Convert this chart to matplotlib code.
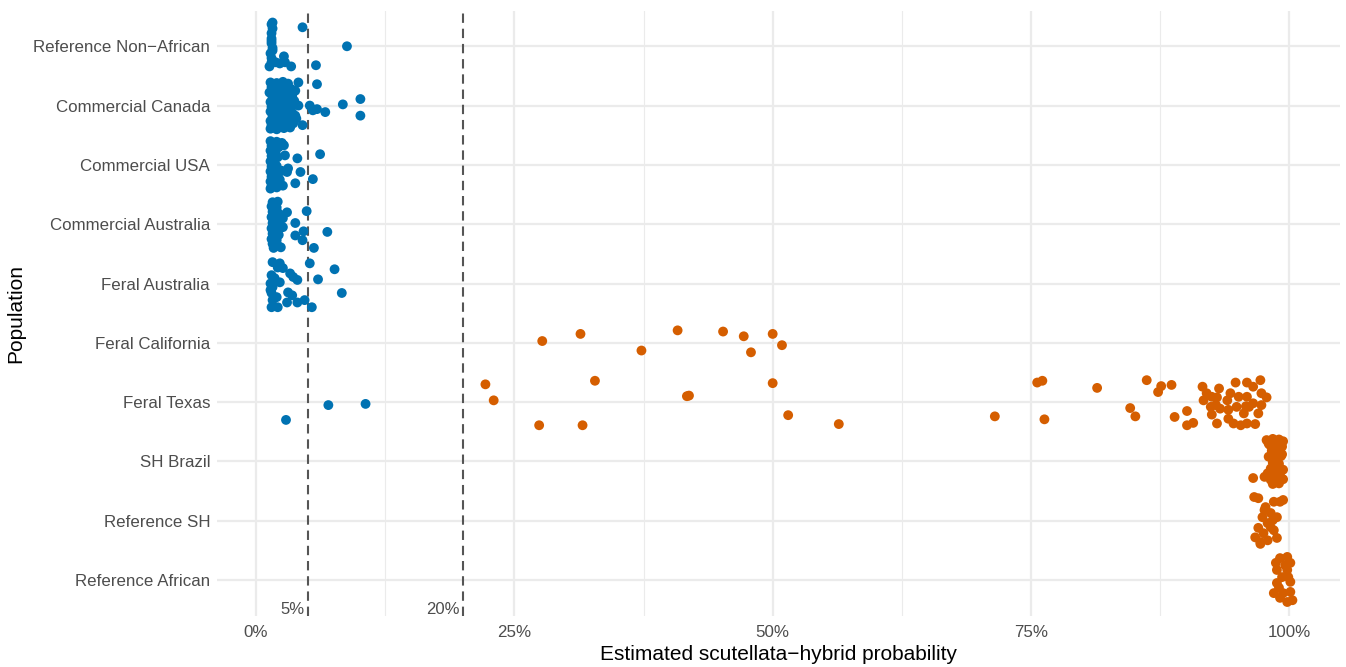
import numpy as np
import matplotlib
matplotlib.use("Agg")
import matplotlib.pyplot as plt
from matplotlib.ticker import FuncFormatter, MultipleLocator

plt.rcParams['font.family'] = ['Liberation Sans', 'DejaVu Sans']

# populations, top to bottom
populations = ['Reference Non\u2212African', 'Commercial Canada', 'Commercial USA',
               'Commercial Australia', 'Feral Australia', 'Feral California',
               'Feral Texas', 'SH Brazil', 'Reference SH', 'Reference African']

# probability (%) and vertical jitter (in category units)
ref_nonafr_x = [1.5, 1.6, 1.5, 1.5, 1.5, 1.6, 1.4, 1.5, 1.5, 2.7, 2.8, 3.4, 4.5, 8.8, 5.8, 1.9, 2.3, 1.6, 1.3,
                1.5, 1.6]
ref_nonafr_dy = [0.37, 0.30, 0.22, 0.13, 0.05, -0.03, -0.12, -0.20, -0.27, -0.17, -0.27, -0.34, 0.32, 0.0, -0.32, -0.27, -0.29, 0.40, -0.34,
                 0.09, -0.07]

canada_x = [1.4, 2.0, 2.6, 3.1, 1.5, 2.2, 2.8, 3.4, 1.3, 1.9, 2.5, 3.0, 1.6, 2.3, 2.9, 3.5,
            1.4, 2.0, 2.6, 3.2, 1.5, 2.2, 2.8, 3.3, 1.4, 2.0, 2.7, 3.5, 1.6, 2.3, 2.9, 1.4,
            2.1, 2.6, 3.2, 1.5, 2.2, 2.9, 3.6, 1.4, 2.0, 2.7, 3.3, 3.8, 3.7, 3.9,
            1.7, 2.4, 3.0, 1.8, 2.5, 3.1, 1.7, 2.4, 3.0, 1.8, 2.5, 3.4, 1.7, 2.4,
            4.1, 5.9, 8.4, 10.1, 10.1, 5.9, 6.7, 5.5, 4.1, 4.5, 3.8, 5.2]
canada_dy = [0.39, 0.38, 0.40, 0.37, 0.31, 0.30, 0.32, 0.28, 0.22, 0.24, 0.20, 0.21, 0.14, 0.12, 0.15, 0.16,
             0.06, 0.05, 0.08, 0.04, -0.02, -0.03, -0.01, -0.04, -0.10, -0.11, -0.09, -0.12, -0.18, -0.19, -0.16, -0.26,
             -0.25, -0.28, -0.24, -0.33, -0.34, -0.31, -0.30, -0.39, -0.40, -0.38, -0.37, 0.25, 0.08, -0.22,
             0.35, 0.34, 0.26, 0.18, 0.17, 0.10, 0.01, 0.00, -0.06, -0.14, -0.14, -0.20, -0.30, -0.36,
             0.39, 0.36, 0.02, 0.11, -0.17, -0.06, -0.11, -0.08, 0.0, -0.33, -0.17, 0.0]

usa_x = [1.4, 2.0, 2.5, 1.5, 2.2, 2.7, 1.4, 1.9, 1.5, 2.1, 1.4, 1.8, 1.5, 2.0, 1.4, 1.9,
         1.5, 2.1, 1.4, 1.8, 2.3, 1.5, 2.0, 2.6, 1.4, 2.5, 1.7, 1.7, 1.7,
         2.8, 4.0, 6.2, 3.1, 4.3, 3.0, 3.8, 5.5]
usa_dy = [0.40, 0.39, 0.37, 0.32, 0.30, 0.33, 0.24, 0.22, 0.15, 0.13, 0.06, 0.04, -0.03, -0.02, -0.11, -0.13,
          -0.20, -0.19, -0.28, -0.27, -0.25, -0.36, -0.38, -0.35, -0.40, -0.10, 0.18, -0.07, -0.32,
          0.16, 0.11, 0.18, -0.06, -0.12, -0.12, -0.31, -0.24]

com_aus_x = [1.6, 2.1, 1.5, 2.0, 1.6, 2.2, 1.5, 2.0, 1.6, 2.3, 1.5, 2.0, 1.6, 2.2, 1.5, 2.0,
             1.6, 2.1, 1.7, 2.4,
             3.0, 4.9, 3.8, 4.6, 6.9, 3.8, 4.5, 5.6, 2.6, 2.6]
com_aus_dy = [0.37, 0.38, 0.30, 0.28, 0.21, 0.18, 0.12, 0.09, 0.02, 0.0, -0.07, -0.09, -0.16, -0.18, -0.25, -0.27,
              -0.33, -0.36, -0.40, -0.39,
              0.20, 0.22, 0.02, -0.12, -0.13, -0.19, -0.27, -0.40, -0.05, 0.10]

feral_aus_x = [1.6, 2.3, 2.1, 5.2, 7.6, 3.3, 3.6, 6.0, 4.0, 1.5, 1.8, 1.4, 1.6, 2.3, 8.3, 3.1,
               3.5, 3.0, 4.0, 4.7, 5.4, 1.5, 1.6, 1.5, 2.1, 2.0, 2.6, 1.4]
feral_aus_dy = [0.36, 0.34, 0.27, 0.34, 0.24, 0.17, 0.11, 0.07, 0.06, 0.14, 0.09, 0.0, -0.06, 0.02, -0.16, -0.15,
                -0.20, -0.32, -0.32, -0.28, -0.40, -0.16, -0.28, -0.40, -0.40, -0.23, 0.26, -0.11]

california_x = [27.7, 31.4, 37.3, 40.8, 45.2, 47.2, 47.9, 50.0, 50.9]
california_dy = [0.03, 0.15, -0.13, 0.21, 0.19, 0.11, -0.16, 0.15, -0.04]

texas_x = [2.9, 7.0, 10.6,
           22.2, 23.0, 27.4, 31.6, 32.8, 41.7, 41.9, 50.0, 51.5, 56.4, 71.5, 75.6, 76.1, 76.3,
           81.4, 86.2, 87.3, 87.6, 88.6, 84.6, 85.1, 88.9, 90.1, 90.1, 90.7,
           91.6, 92.0, 91.7, 92.5, 93.0, 93.2, 92.4, 92.5, 93.0, 93.3, 94.1, 94.3, 94.8, 95.1,
           95.9, 96.5, 97.2, 97.3, 97.8, 97.3, 97.0, 96.7, 95.9, 95.3, 94.6, 94.1, 95.6, 96.1,
           96.5, 94.9, 94.0, 95.9, 92.9, 95.8]
texas_dy = [-0.30, -0.05, -0.03,
            0.30, 0.03, -0.39, -0.39, 0.36, 0.10, 0.11, 0.32, -0.22, -0.37, -0.24, 0.33, 0.36, -0.29,
            0.24, 0.37, 0.17, 0.27, 0.29, -0.10, -0.24, -0.25, -0.15, -0.39, -0.35,
            0.26, 0.15, 0.03, 0.09, 0.08, 0.23, -0.08, -0.21, -0.36, -0.11, -0.13, 0.15, 0.33, 0.09,
            0.33, 0.26, 0.37, 0.15, 0.08, -0.05, -0.19, -0.37, -0.36, -0.39, -0.36, -0.28, -0.19, -0.08,
            -0.02, -0.08, 0.03, 0.09, -0.05, -0.07]

brazil_x = [97.8, 98.4, 99.0, 99.4, 98.1, 98.8, 99.3, 98.3, 98.9, 98.0, 98.6, 99.2, 98.4, 99.0,
            98.2, 98.8, 99.4, 97.9, 98.5, 99.1, 98.2, 98.8, 99.4, 98.4, 99.0, 97.6, 96.5,
            98.0, 98.7, 99.3, 98.5]
brazil_dy = [0.36, 0.38, 0.37, 0.34, 0.28, 0.27, 0.25, 0.18, 0.16, 0.08, 0.06, 0.09, -0.02, -0.04,
             -0.12, -0.10, -0.14, -0.20, -0.22, -0.24, -0.31, -0.33, -0.30, -0.38, -0.37, -0.26, -0.28,
             0.30, 0.21, 0.12, 0.02]

ref_sh_x = [97.0, 97.7, 98.5, 99.1, 98.2, 97.4, 98.8, 97.9, 97.0, 98.5, 96.7, 97.2, 97.9, 98.8,
            97.5, 98.4, 97.2, 99.4, 98.2, 97.6, 96.6]
ref_sh_dy = [0.38, 0.23, 0.32, 0.32, 0.13, 0.06, 0.06, -0.04, -0.12, -0.16, -0.28, -0.36, -0.33, -0.29,
             -0.21, 0.01, -0.39, 0.35, -0.11, 0.18, 0.40]

ref_afr_x = [99.8, 99.1, 100.1, 98.8, 99.8, 98.8, 100.1, 98.5, 99.4, 100.1, 99.8, 99.1, 100.3,
             99.3, 99.9, 98.7, 99.0, 99.6]
ref_afr_dy = [0.39, 0.37, 0.29, 0.17, 0.17, -0.05, -0.03, -0.22, -0.22, -0.20, -0.37, -0.30, -0.34,
              0.05, 0.05, 0.29, -0.13, 0.25]

groups = [(ref_nonafr_x, ref_nonafr_dy), (canada_x, canada_dy), (usa_x, usa_dy),
          (com_aus_x, com_aus_dy), (feral_aus_x, feral_aus_dy), (california_x, california_dy),
          (texas_x, texas_dy), (brazil_x, brazil_dy), (ref_sh_x, ref_sh_dy), (ref_afr_x, ref_afr_dy)]

thresholds = [5, 20]
blue, orange = '#0072B2', '#D55E00'

fig = plt.figure(figsize=(13.46, 6.67), dpi=100)
ax = fig.add_axes([0.1612, 0.077, 0.8343, 0.907])

n = len(populations)
for i, (xs, dys) in enumerate(groups):
    pos = n - i
    xs = np.array(xs) / 100
    ys = pos + np.array(dys)
    cols = np.where(xs < 0.2, blue, orange)
    ax.scatter(xs, ys, s=50, c=cols, linewidths=0, zorder=3)

for t in thresholds:
    ax.axvline(t / 100, color='#555555', lw=1.5, ls=(0, (4.5, 2.8)), zorder=2)
    ax.text(t / 100 - 0.003, 0.5, f'{t}%', ha='right', va='center',
            fontsize=12, color='#4D4D4D', zorder=4)

ax.set_xlim(-0.0378, 1.049)
ax.set_ylim(0.4, n + 0.6)
ax.set_yticks(range(n, 0, -1))
ax.set_yticklabels(populations)
ax.xaxis.set_major_locator(MultipleLocator(0.25))
ax.xaxis.set_minor_locator(MultipleLocator(0.125))
ax.xaxis.set_major_formatter(FuncFormatter(lambda v, p: f'{v * 100:.0f}%'))

ax.grid(which='major', color='#EBEBEB', lw=1.6, zorder=0)
ax.grid(which='minor', axis='x', color='#EBEBEB', lw=0.8, zorder=0)
ax.set_axisbelow(True)
for s in ax.spines.values():
    s.set_visible(False)
ax.tick_params(which='both', length=0, labelsize=12.2, labelcolor='#4D4D4D', pad=5)
ax.tick_params(axis='x', pad=7)

ax.set_xlabel('Estimated scutellata\u2212hybrid probability', fontsize=15, labelpad=3)
ax.set_ylabel('Population', fontsize=15, labelpad=6)

fig.savefig('out.png', dpi=100)
